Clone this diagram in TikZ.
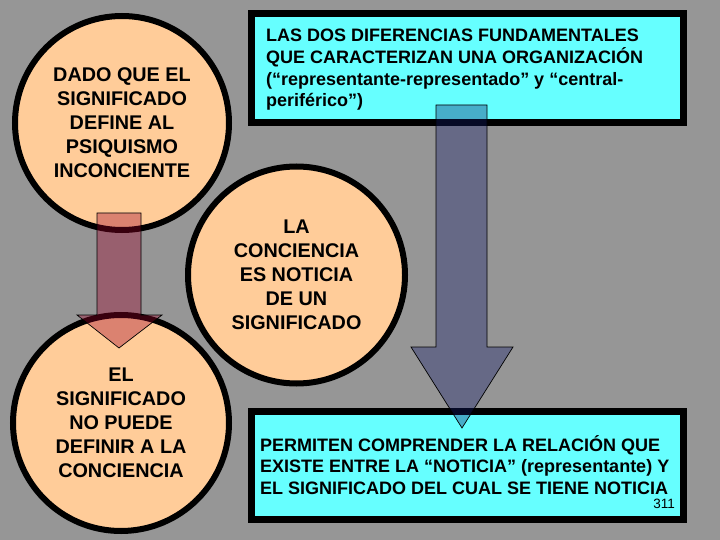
\documentclass[tikz,border=0pt]{standalone}
\usepackage{fontspec}
\setmainfont{Liberation Sans}
\definecolor{bg}{RGB}{150,150,150}
\definecolor{peach}{RGB}{255,204,153}
\definecolor{cyanbox}{RGB}{102,255,255}
\definecolor{redarrow}{RGB}{156,0,41}
\definecolor{bluearrow}{RGB}{17,28,108}
\begin{document}
\begin{tikzpicture}[x=1bp,y=-1bp,
  circ/.style={circle, draw=black, line width=6bp, fill=peach, minimum size=#1,
    inner sep=0pt, align=center, font=\bfseries\fontsize{19.8bp}{24bp}\selectfont},
  cbox/.style={rectangle, draw=black, line width=7bp, fill=cyanbox,
    minimum width=432bp, inner sep=0pt},
  boxtext/.style={anchor=base west, inner sep=0pt, font=\bfseries\fontsize{18bp}{21.6bp}\selectfont},
  blockarrow/.style={fill=#1, fill opacity=0.36, draw=black, line width=0.7bp, line join=miter}
]
\fill[bg] (0,0) rectangle (720,540);
\useasboundingbox (0,0) rectangle (720,540);

% circles
\node[circ=214bp] (c1) at (122,123) {DADO QUE EL\\SIGNIFICADO\\DEFINE AL\\PSIQUISMO\\INCONCIENTE};
\node[circ=217bp] (c2) at (296.5,275) {LA\\CONCIENCIA\\ES NOTICIA\\DE UN\\SIGNIFICADO};
\node[circ=216bp] (c3) at (121,423) {EL\\SIGNIFICADO\\NO PUEDE\\DEFINIR A LA\\CONCIENCIA};

% boxes
\node[cbox, minimum height=109bp] (b1) at (467.5,68) {};
\node[cbox, minimum height=107.6bp] (b2) at (467.5,465.5) {};

\node[boxtext] (t1) at (266,42) {\parbox[t]{415bp}{\raggedright
LAS DOS DIFERENCIAS FUNDAMENTALES\\
QUE CARACTERIZAN UNA ORGANIZACIÓN\\
(“representante-representado” y “central-\\
periférico”)}};
\node[boxtext] (t2) at (260,451.3) {\parbox[t]{418bp}{\raggedright
PERMITEN COMPRENDER LA RELACIÓN QUE\\
EXISTE ENTRE LA “NOTICIA” (representante) Y\\
EL SIGNIFICADO DEL CUAL SE TIENE NOTICIA}};
\node[anchor=base east, inner sep=0pt, font=\fontsize{13.5bp}{16bp}\selectfont] (num) at (675,508.7) {311};

% block arrows
\draw[blockarrow=redarrow] (97,213) -- (141,213) -- (141,315) -- (162,315) -- (119,348)
  -- (77,315) -- (97,315) -- cycle;
\draw[blockarrow=bluearrow] (436,105) -- (487,105) -- (487,347) -- (513,347) -- (462,428)
  -- (411,347) -- (436,347) -- cycle;
\end{tikzpicture}
\end{document}
